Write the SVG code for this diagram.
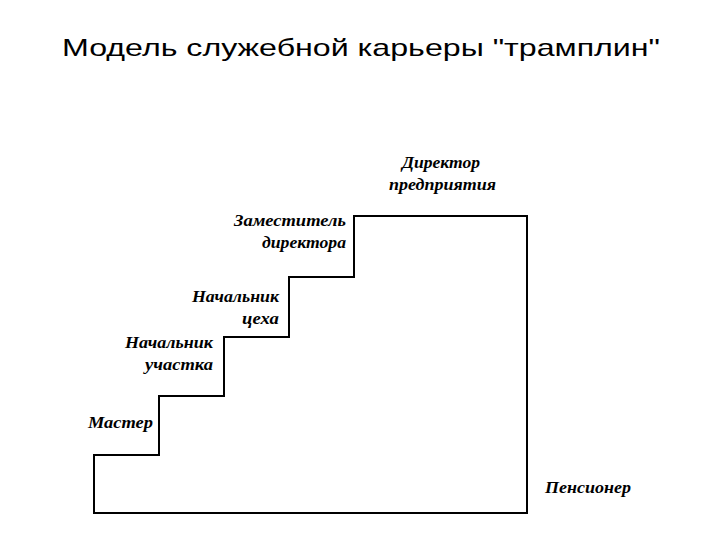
<svg xmlns="http://www.w3.org/2000/svg" width="720" height="540" viewBox="0 0 720 540">
<style>
.title{font-family:"Liberation Sans",Arial,sans-serif;font-size:24px;fill:#000}
.lbl{font-family:"Liberation Serif","Times New Roman",serif;font-size:17px;font-weight:bold;font-style:italic;fill:#000}
.stair{fill:none;stroke:#000;stroke-width:2}
</style>
<rect width="720" height="540" fill="#fff"/>
<text class="title" x="361" y="56" text-anchor="middle" textLength="598" lengthAdjust="spacingAndGlyphs">Модель служебной карьеры "трамплин"</text>
<g id="connectors">
<path class="stair" d="M94,513 L94,455 L159,455 L159,396 L224,396 L224,337 L289,337 L289,277 L354,277 L354,216 L527,216 L527,513 Z"/>
</g>
<g id="director">
<text class="lbl" x="402" y="168" textLength="78" lengthAdjust="spacingAndGlyphs">Директор</text>
<text class="lbl" x="389" y="190" textLength="107" lengthAdjust="spacingAndGlyphs">предприятия</text>
</g>
<g id="deputy">
<text class="lbl" x="346" y="226" text-anchor="end" textLength="112" lengthAdjust="spacingAndGlyphs">Заместитель</text>
<text class="lbl" x="346" y="248" text-anchor="end" textLength="84" lengthAdjust="spacingAndGlyphs">директора</text>
</g>
<g id="shop">
<text class="lbl" x="279" y="302" text-anchor="end" textLength="87" lengthAdjust="spacingAndGlyphs">Начальник</text>
<text class="lbl" x="279" y="324" text-anchor="end" textLength="37" lengthAdjust="spacingAndGlyphs">цеха</text>
</g>
<g id="section">
<text class="lbl" x="213" y="348" text-anchor="end" textLength="88" lengthAdjust="spacingAndGlyphs">Начальник</text>
<text class="lbl" x="213" y="370" text-anchor="end" textLength="68" lengthAdjust="spacingAndGlyphs">участка</text>
</g>
<g id="master">
<text class="lbl" x="88" y="428" textLength="65" lengthAdjust="spacingAndGlyphs">Мастер</text>
</g>
<g id="pensioner">
<text class="lbl" x="545" y="493" textLength="86" lengthAdjust="spacingAndGlyphs">Пенсионер</text>
</g>
</svg>
